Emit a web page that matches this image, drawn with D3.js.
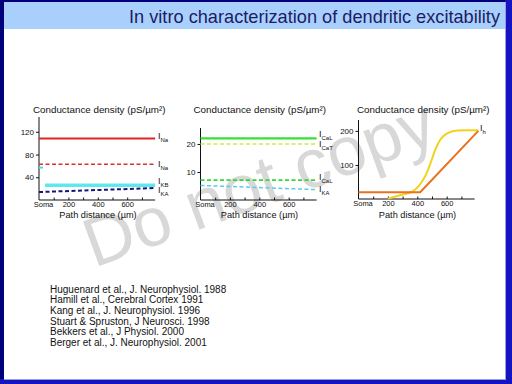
<!DOCTYPE html>
<html><head><meta charset="utf-8">
<script src="https://cdn.jsdelivr.net/npm/d3@7/dist/d3.min.js"></script>
<style>
html,body{margin:0;padding:0;background:#fff;}
svg{display:block;font-family:Arial,"Liberation Sans",sans-serif;}
</style></head>
<body><svg id="c" width="512" height="384"></svg>
<script>
// ---------- data ----------
const title = "In vitro characterization of dendritic excitability";
const axisTitle = "Conductance density (pS/\u00b5m\u00b2)";
const xTitle = "Path distance (\u00b5m)";
const xTickValues = [0, 100, 200, 300, 400, 500, 600, 700];
const xTickLabels = {0: "Soma", 200: "200", 400: "400", 600: "600"};
const references = [
  "Huguenard et al., J. Neurophysiol. 1988",
  "Hamill et al., Cerebral Cortex 1991",
  "Kang et al., J. Neurophysiol. 1996",
  "Stuart & Spruston, J Neurosci.  1998",
  "Bekkers et al., J Physiol.  2000",
  "Berger et al., J. Neurophysiol. 2001"
];
const watermark = "Do not copy";

// panel 1 (Na / K)
const p1Ticks = [40, 80, 120];
const p1NaSoma = [[0, 108], [790, 108]];
const p1NaDend = [[0, 63], [790, 63]];
const p1KbSoma = [[0, 57], [40, 57]];
const p1KbDend = [[40, 26], [790, 26]];
const p1Ka = [[0, 14], [790, 21]];
// panel 2 (Ca / KA)
const p2Ticks = [10, 20];
const p2CaL1 = [[0, 22], [790, 22]];
const p2CaT = [[0, 20], [790, 20]];
const p2CaL2 = [[0, 7.1], [790, 7.1]];
const p2Ka = [[0, 5.2], [790, 3.7]];
// panel 3 (Ih)
const p3Ticks = [100, 200];
const p3IhLinear = [[0, 20], [420, 20], [815, 200]];
const p3IhSigmoid = [[200, 1], [238, 6], [300, 13], [363, 21], [408, 37], [454, 67], [488, 103], [522, 144], [556, 174], [601, 192], [669, 201], [748, 202], [815, 202]];

// ---------- frame ----------
const svg = d3.select("#c");
svg.append("rect").attr("width", 512).attr("height", 384).attr("fill", "#1414c0");
svg.append("rect").attr("x", 0).attr("y", 0).attr("width", 505).attr("height", 379).attr("fill", "#00007a");
svg.append("rect").attr("x", 4).attr("y", 2).attr("width", 501).attr("height", 377).attr("fill", "#ffffff");
svg.append("rect").attr("x", 4).attr("y", 2).attr("width", 501).attr("height", 27).attr("fill", "#a9d0fd");
svg.append("line").attr("x1", 505.5).attr("x2", 505.5).attr("y1", 2).attr("y2", 379).attr("stroke", "#9a9ae6");
svg.append("line").attr("x1", 4).attr("x2", 506).attr("y1", 379.5).attr("y2", 379.5).attr("stroke", "#9a9ae6");
svg.append("text").attr("x", 500).attr("y", 23).attr("text-anchor", "end")
  .attr("font-size", 18.2).attr("fill", "#1c1c64").text(title);

// watermark
svg.append("text").attr("transform", "translate(94,268) rotate(-20)")
  .attr("font-size", 69).attr("fill", "#d8d8d8").text(watermark);

// ---------- panels ----------
function panel(cfg) {
  const g = svg.append("g");
  const x = d3.scaleLinear().domain([0, 800]).range([cfg.ax, cfg.ax + 117.6]);
  const y = d3.scaleLinear().domain([0, cfg.yMax]).range([cfg.bottom, cfg.top]);
  // title
  g.append("text").attr("x", cfg.titleX).attr("y", 113).attr("font-size", 9.8).attr("fill", "#111")
    .text(axisTitle);
  // y axis
  const ya = g.append("g").attr("transform", `translate(${cfg.ax},0)`)
    .call(d3.axisLeft(y).tickValues(cfg.ticks).tickSize(3).tickPadding(2).tickFormat(d3.format("d")));
  ya.select(".domain").attr("d", `M0,${cfg.bottom}V${cfg.top}`).attr("stroke", "#111");
  ya.selectAll("text").attr("font-size", 8).attr("fill", "#111").attr("font-family", "Arial");
  ya.selectAll("line").attr("stroke", "#111");
  // x axis
  const xa = g.append("g").attr("transform", `translate(0,${cfg.bottom})`)
    .call(d3.axisBottom(x).tickValues(xTickValues).tickSize(-2.5).tickPadding(1.5)
      .tickFormat(d => xTickLabels[d] || ""));
  xa.select(".domain").attr("d", `M${cfg.ax},0H${x(790)}`).attr("stroke", "#111");
  xa.selectAll("text").attr("font-size", 7.5).attr("fill", "#111").attr("font-family", "Arial");
  xa.selectAll(".tick").filter(d => d === 0).select("text").attr("dx", 4);
  xa.selectAll(".tick").filter(d => d === 0).select("line").remove();
  xa.selectAll("line").attr("stroke", "#111");
  g.append("text").attr("x", cfg.ax + 59).attr("y", 217.5).attr("text-anchor", "middle")
    .attr("font-size", 9.2).attr("fill", "#111").text(xTitle);
  cfg.series.forEach(s => {
    const line = d3.line().x(d => x(d[0])).y(d => y(d[1]));
    if (s.curve) line.curve(s.curve);
    g.append("path").datum(s.data).attr("d", line)
      .attr("fill", "none").attr("stroke", s.color).attr("stroke-width", s.w)
      .attr("stroke-dasharray", s.dash || null);
  });
  cfg.labels.forEach(l => {
    const t = g.append("text").attr("x", cfg.labelX).attr("y", l.y).attr("font-size", 9).attr("fill", "#111");
    t.append("tspan").text("I");
    t.append("tspan").attr("dy", 2.5).attr("font-size", 6).text(l.sub);
  });
}

panel({
  ax: 39, titleX: 33, top: 117, bottom: 200, yMax: 146, ticks: p1Ticks, labelX: 158,
  series: [
    {data: p1NaSoma, color: "#e02424", w: 2},
    {data: p1NaDend, color: "#d83232", w: 1.5, dash: "4,2.5"},
    {data: p1KbSoma, color: "#3fe0e0", w: 2, dash: "4,2"},
    {data: p1KbDend, color: "#5ee8ee", w: 3.5},
    {data: p1Ka, color: "#14147c", w: 2, dash: "4,2.5"}
  ],
  labels: [{y: 139, sub: "Na"}, {y: 167, sub: "Na"}, {y: 184, sub: "KB"}, {y: 193, sub: "KA"}]
});
panel({
  ax: 200.5, titleX: 193.5, top: 128, bottom: 200, yMax: 25.7, ticks: p2Ticks, labelX: 319,
  series: [
    {data: p2CaL1, color: "#36e036", w: 2.2},
    {data: p2CaT, color: "#c6ee46", w: 1.5, dash: "4,2.5"},
    {data: p2CaL2, color: "#34d634", w: 1.8, dash: "4,2.5"},
    {data: p2Ka, color: "#5ccce6", w: 1.5, dash: "4,2.5"}
  ],
  labels: [{y: 137, sub: "CaL"}, {y: 147, sub: "CaT"}, {y: 180, sub: "CaL"}, {y: 192, sub: "KA"}]
});
panel({
  ax: 358.5, titleX: 357, top: 120, bottom: 199, yMax: 232, ticks: p3Ticks, labelX: 480,
  series: [
    {data: p3IhSigmoid, color: "#f2d21c", w: 2, curve: d3.curveMonotoneX},
    {data: p3IhLinear, color: "#e8721e", w: 2}
  ],
  labels: [{y: 131, sub: "h"}]
});

// references
svg.append("g").selectAll("text").data(references).join("text")
  .attr("x", 50).attr("y", (d, i) => 292.8 + i * 10.6)
  .attr("font-size", 10).attr("fill", "#111").text(d => d);
</script></body></html>
